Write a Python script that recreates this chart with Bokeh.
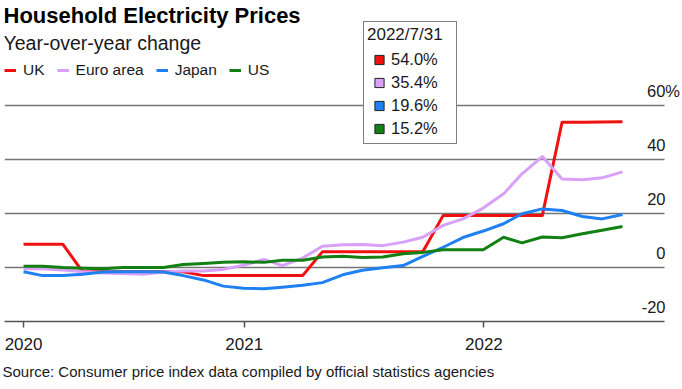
import pandas as pd
from bokeh.plotting import figure
from bokeh.models import (Range1d, FixedTicker, DatetimeTickFormatter, Label, Legend,
                          LegendItem, Title, Grid)
from bokeh.embed import file_html
from bokeh.resources import INLINE

# ---------------- data (year-over-year change, %) ----------------
months = pd.period_range("2020-01", "2022-07", freq="M")
dates = months.to_timestamp(how="end").normalize()

uk = [8.6, 8.6, 8.6, -1.6, -1.6, -1.6, -1.6, -1.6, -1.6, -3.0, -3.0, -3.0, -3.0, -3.0, -3.0,
      5.8, 5.8, 5.8, 5.8, 5.8, 5.8, 19.3, 19.3, 19.3, 19.3, 19.3, 19.3, 53.8, 53.8, 53.9, 54.0]
euro = [-0.5, -0.5, -0.9, -1.6, -2.0, -2.2, -2.5, -1.7, -1.3, -1.3, -0.7, 0.8, 3.0, 0.7, 3.5,
        7.9, 8.4, 8.5, 8.1, 9.4, 11.2, 15.6, 18.0, 22.0, 27.3, 34.7, 41.1, 32.8, 32.5, 33.2, 35.4]
japan = [-1.6, -3.0, -3.0, -2.5, -1.7, -1.6, -1.6, -1.7, -3.0, -4.6, -6.9, -7.7, -7.9, -7.3, -6.6,
         -5.6, -2.7, -1.0, -0.1, 0.7, 4.1, 7.5, 11.1, 13.5, 16.2, 19.9, 21.7, 21.1, 18.9, 18.0, 19.6]
us = [0.5, 0.5, 0.0, -0.3, -0.5, 0.0, 0.0, 0.0, 1.1, 1.5, 1.9, 2.1, 1.9, 2.7, 2.7,
      3.9, 4.2, 3.7, 3.9, 5.1, 5.6, 6.6, 6.6, 6.6, 11.2, 9.1, 11.3, 11.0, 12.5, 13.8, 15.2]

series_names = ["UK", "Euro area", "Japan", "US"]
series_values = [uk, euro, japan, us]
series_colors = ["#f01010", "#d8a0f6", "#1f80f2", "#128012"]

y_ticks = [-20, 0, 20, 40, 60]
y_tick_labels = ["-20", "0", "20", "40", "60%"]
x_tick_dates = ["2020-01-31", "2021-01-01", "2022-01-01"]

title_text = "Household Electricity Prices"
subtitle_text = "Year-over-year change"
source_text = "Source: Consumer price index data compiled by official statistics agencies"

FONT = "Liberation Sans"
TXT = "#1a1a1a"

def ms(d):
    return pd.Timestamp(d).value / 1e6

W, H = 682, 389
FRAME_LEFT = 4
FRAME_BOTTOM_SPACE = 68
GRID_PX = 660                     # visible width of the grid lines
FRAME_W = W - FRAME_LEFT
FRAME_H = H - FRAME_BOTTOM_SPACE

x_start, x_grid_end = ms("2020-01-02"), ms("2022-10-03")
x_end = x_start + (x_grid_end - x_start) * FRAME_W / GRID_PX
y_start = -20
y_end = y_start + FRAME_H / 2.7

p = figure(width=W, height=H, x_axis_type="datetime", y_axis_location=None,
           x_range=Range1d(x_start, x_end), y_range=Range1d(y_start, y_end),
           output_backend="svg", toolbar_location=None, title=None,
           min_border_left=FRAME_LEFT, min_border_right=0, min_border_top=0,
           min_border_bottom=FRAME_BOTTOM_SPACE)
p.outline_line_color = None
p.background_fill_color = "white"
p.xgrid.visible = False
p.ygrid.visible = False

grid_kw = dict(dimension=1, ticker=FixedTicker(ticks=y_ticks),
               grid_line_color="#757575", grid_line_width=1.5)
try:
    grid = Grid(cross_bounds=(x_start, x_grid_end), **grid_kw)
except Exception:
    grid = Grid(**grid_kw)
p.add_layout(grid, "center")

# x axis
xa = p.xaxis[0]
xa.bounds = (x_start, x_grid_end)
xa.ticker = FixedTicker(ticks=[ms(d) for d in x_tick_dates])
xa.formatter = DatetimeTickFormatter(days="%Y", months="%Y", years="%Y",
                                     hours="%Y", hourmin="%Y", minutes="%Y")
xa.axis_line_color = "#555555"
xa.axis_line_width = 1.5
xa.major_tick_line_color = "#555555"
xa.major_tick_line_width = 1.5
xa.major_tick_out = 6
xa.major_tick_in = 0
xa.minor_tick_out = 0
xa.minor_tick_in = 0
xa.major_label_standoff = 10
xa.major_label_text_font = FONT
xa.major_label_text_font_size = "17px"
xa.major_label_text_color = TXT

# lines
line_renderers = []
for name, vals, col in zip(series_names, series_values, series_colors):
    r = p.line(dates, vals, line_color=col, line_width=3, line_join="round")
    line_renderers.append(r)

# y tick labels (inside, above grid lines, right aligned at grid end)
for v, t in zip(y_ticks, y_tick_labels):
    extra = 14.5 if t.endswith("%") else 0
    p.add_layout(Label(x=x_grid_end, y=v, text=t, text_align="right", text_baseline="middle",
                       x_offset=1 + extra, y_offset=14.5, text_font=FONT,
                       text_font_size="16.5px", text_color=TXT))

# title and subtitle
p.add_layout(Label(x=x_start, y=y_end, text=title_text, text_font=FONT, text_font_size="22px",
                   text_font_style="bold", text_color="black", text_baseline="middle",
                   x_offset=-1, y_offset=-14.5))
p.add_layout(Label(x=x_start, y=y_end, text=subtitle_text, text_font=FONT, text_font_size="19.5px",
                   text_color=TXT, text_baseline="middle", x_offset=-1, y_offset=-42))

# series legend
leg = Legend(items=[LegendItem(label=n, renderers=[r]) for n, r in zip(series_names, line_renderers)],
             orientation="horizontal", location=(0, 241), padding=1, spacing=12,
             glyph_width=12, glyph_height=20, label_standoff=7,
             label_text_font=FONT, label_text_font_size="15.5px", label_text_color=TXT,
             border_line_color=None, background_fill_alpha=0, margin=0)
p.add_layout(leg, "center")

# value box for the last date
last = dates[-1]
box_title = f"{last.year}/{last.month}/{last.day}"
sq_items = []
for name, vals, col in zip(series_names, series_values, series_colors):
    r = p.scatter([last], [vals[-1]], marker="square", fill_color=col, line_color="#222222",
                  line_width=1, visible=False)
    sq_items.append(LegendItem(label=f"{vals[-1]:.1f}%", renderers=[r]))
box = Legend(items=sq_items, title=box_title, location=(359, 177), padding=3, spacing=0,
             glyph_width=24, glyph_height=23, label_standoff=0, label_width=62,
             click_policy="none",
             title_text_font=FONT, title_text_font_size="17px", title_text_font_style="normal",
             title_text_color=TXT, title_standoff=3,
             label_text_font=FONT, label_text_font_size="16.5px", label_text_color=TXT,
             border_line_color="black", border_line_width=1, background_fill_color="white",
             background_fill_alpha=1, inactive_fill_alpha=0, margin=0)
p.add_layout(box, "center")

# source
p.add_layout(Title(text=source_text, align="left", text_font=FONT, text_font_size="15px",
                   text_font_style="normal", text_color=TXT, standoff=16, offset=-2), "below")

open("out.html", "w").write(file_html(p, INLINE))
